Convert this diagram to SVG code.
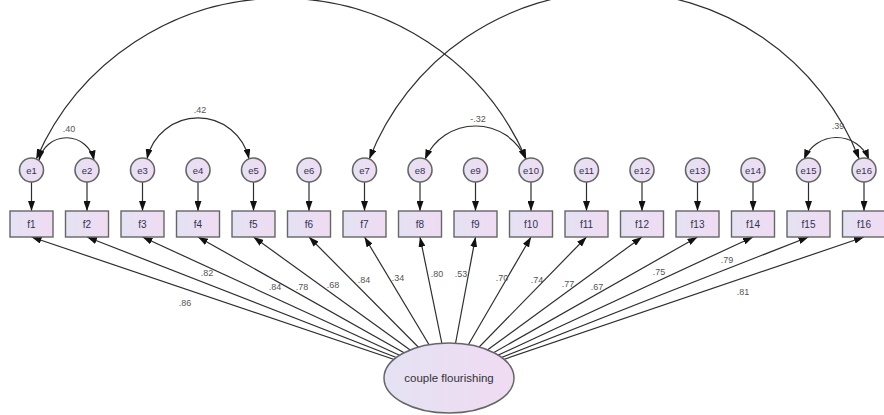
<svg xmlns="http://www.w3.org/2000/svg" width="884" height="415" viewBox="0 0 884 415">
<defs>
<linearGradient id="lav" x1="0" y1="0" x2="1" y2="0">
<stop offset="0" stop-color="#e4e2f3"/>
<stop offset="1" stop-color="#f0dbf3"/>
</linearGradient>
<marker id="ah" viewBox="0 0 10 7" refX="10" refY="3.5" markerWidth="10" markerHeight="7" markerUnits="userSpaceOnUse" orient="auto-start-reverse" preserveAspectRatio="none">
<path d="M0,0 L10,3.5 L0,7 z" fill="#111"/>
</marker>
<style>
.c{fill:none;stroke:#2e2e2e;stroke-width:1.2}
.a{marker-end:url(#ah)}
.b{marker-start:url(#ah);marker-end:url(#ah)}
.box{fill:url(#lav);stroke:#666;stroke-width:1.4}
.err{fill:url(#lav);stroke:#666;stroke-width:1.6}
.lat{fill:url(#lav);stroke:#666;stroke-width:1.5}
.t{font-family:"Liberation Sans",Arial,sans-serif;font-size:10px;fill:#33334d;text-anchor:middle}
.te{font-family:"Liberation Sans",Arial,sans-serif;font-size:9.5px;fill:#33334d;text-anchor:middle}
.tl{font-family:"Liberation Sans",Arial,sans-serif;font-size:9px;fill:#555;text-anchor:middle}
.tc{font-family:"Liberation Sans",Arial,sans-serif;font-size:11.5px;fill:#333;text-anchor:middle}
</style>
</defs>
<rect width="884" height="415" fill="#fff"/>
<g id="connectors">
<path class="c a" d="M449,378 L31.5,237"/>
<path class="c a" d="M449,378 L87,237"/>
<path class="c a" d="M449,378 L142.5,237"/>
<path class="c a" d="M449,378 L198,237"/>
<path class="c a" d="M449,378 L253.5,237"/>
<path class="c a" d="M449,378 L309,237"/>
<path class="c a" d="M449,378 L364.5,237"/>
<path class="c a" d="M449,378 L420,237"/>
<path class="c a" d="M449,378 L475.5,237"/>
<path class="c a" d="M449,378 L531,237"/>
<path class="c a" d="M449,378 L586.5,237"/>
<path class="c a" d="M449,378 L642,237"/>
<path class="c a" d="M449,378 L697.5,237"/>
<path class="c a" d="M449,378 L753,237"/>
<path class="c a" d="M449,378 L808.5,237"/>
<path class="c a" d="M449,378 L864,237"/>
<path class="c a" d="M31.5,182 L31.5,211"/>
<path class="c a" d="M87,182 L87,211"/>
<path class="c a" d="M142.5,182 L142.5,211"/>
<path class="c a" d="M198,182 L198,211"/>
<path class="c a" d="M253.5,182 L253.5,211"/>
<path class="c a" d="M309,182 L309,211"/>
<path class="c a" d="M364.5,182 L364.5,211"/>
<path class="c a" d="M420,182 L420,211"/>
<path class="c a" d="M475.5,182 L475.5,211"/>
<path class="c a" d="M531,182 L531,211"/>
<path class="c a" d="M586.5,182 L586.5,211"/>
<path class="c a" d="M642,182 L642,211"/>
<path class="c a" d="M697.5,182 L697.5,211"/>
<path class="c a" d="M753,182 L753,211"/>
<path class="c a" d="M808.5,182 L808.5,211"/>
<path class="c a" d="M864,182 L864,211"/>
<path class="c b" d="M36.3,159 A267,267 0 0 1 526.2,159"/>
<path class="c b" d="M369.3,159 A263,263 0 0 1 859.2,159"/>
<path class="c b" d="M39,160.5 A28,28 0 0 1 94,160.5"/>
<path class="c b" d="M147,159 A52.2,52.2 0 0 1 249,159"/>
<path class="c b" d="M425,159.5 A54.8,54.8 0 0 1 526,159.5"/>
<path class="c b" d="M804,159.5 A35,35 0 0 1 869,159.5"/>
</g>
<g id="labels">
<text class="tl" x="69" y="132">.40</text>
<text class="tl" x="200" y="113">.42</text>
<text class="tl" x="478" y="122">-.32</text>
<text class="tl" x="838" y="129">.39</text>
<text class="tl" x="185" y="306">.86</text>
<text class="tl" x="207" y="276">.82</text>
<text class="tl" x="275" y="290">.84</text>
<text class="tl" x="302" y="290">.78</text>
<text class="tl" x="333" y="288">.68</text>
<text class="tl" x="364" y="283">.84</text>
<text class="tl" x="398" y="281">.34</text>
<text class="tl" x="437" y="277">.80</text>
<text class="tl" x="461" y="277">.53</text>
<text class="tl" x="502" y="281">.70</text>
<text class="tl" x="537" y="283">.74</text>
<text class="tl" x="568" y="287">.77</text>
<text class="tl" x="597" y="290">.67</text>
<text class="tl" x="659" y="275">.75</text>
<text class="tl" x="727" y="263">.79</text>
<text class="tl" x="743" y="295">.81</text>
</g>
<g id="e1"><circle class="err" cx="31.5" cy="170" r="12"/><text class="te" x="31.5" y="173.5">e1</text></g>
<g id="e2"><circle class="err" cx="87" cy="170" r="12"/><text class="te" x="87" y="173.5">e2</text></g>
<g id="e3"><circle class="err" cx="142.5" cy="170" r="12"/><text class="te" x="142.5" y="173.5">e3</text></g>
<g id="e4"><circle class="err" cx="198" cy="170" r="12"/><text class="te" x="198" y="173.5">e4</text></g>
<g id="e5"><circle class="err" cx="253.5" cy="170" r="12"/><text class="te" x="253.5" y="173.5">e5</text></g>
<g id="e6"><circle class="err" cx="309" cy="170" r="12"/><text class="te" x="309" y="173.5">e6</text></g>
<g id="e7"><circle class="err" cx="364.5" cy="170" r="12"/><text class="te" x="364.5" y="173.5">e7</text></g>
<g id="e8"><circle class="err" cx="420" cy="170" r="12"/><text class="te" x="420" y="173.5">e8</text></g>
<g id="e9"><circle class="err" cx="475.5" cy="170" r="12"/><text class="te" x="475.5" y="173.5">e9</text></g>
<g id="e10"><circle class="err" cx="531" cy="170" r="12"/><text class="te" x="531" y="173.5">e10</text></g>
<g id="e11"><circle class="err" cx="586.5" cy="170" r="12"/><text class="te" x="586.5" y="173.5">e11</text></g>
<g id="e12"><circle class="err" cx="642" cy="170" r="12"/><text class="te" x="642" y="173.5">e12</text></g>
<g id="e13"><circle class="err" cx="697.5" cy="170" r="12"/><text class="te" x="697.5" y="173.5">e13</text></g>
<g id="e14"><circle class="err" cx="753" cy="170" r="12"/><text class="te" x="753" y="173.5">e14</text></g>
<g id="e15"><circle class="err" cx="808.5" cy="170" r="12"/><text class="te" x="808.5" y="173.5">e15</text></g>
<g id="e16"><circle class="err" cx="864" cy="170" r="12"/><text class="te" x="864" y="173.5">e16</text></g>
<g id="f1"><rect class="box" x="10" y="211" width="43" height="26"/><text class="t" x="31.5" y="227.5">f1</text></g>
<g id="f2"><rect class="box" x="65.5" y="211" width="43" height="26"/><text class="t" x="87" y="227.5">f2</text></g>
<g id="f3"><rect class="box" x="121" y="211" width="43" height="26"/><text class="t" x="142.5" y="227.5">f3</text></g>
<g id="f4"><rect class="box" x="176.5" y="211" width="43" height="26"/><text class="t" x="198" y="227.5">f4</text></g>
<g id="f5"><rect class="box" x="232" y="211" width="43" height="26"/><text class="t" x="253.5" y="227.5">f5</text></g>
<g id="f6"><rect class="box" x="287.5" y="211" width="43" height="26"/><text class="t" x="309" y="227.5">f6</text></g>
<g id="f7"><rect class="box" x="343" y="211" width="43" height="26"/><text class="t" x="364.5" y="227.5">f7</text></g>
<g id="f8"><rect class="box" x="398.5" y="211" width="43" height="26"/><text class="t" x="420" y="227.5">f8</text></g>
<g id="f9"><rect class="box" x="454" y="211" width="43" height="26"/><text class="t" x="475.5" y="227.5">f9</text></g>
<g id="f10"><rect class="box" x="509.5" y="211" width="43" height="26"/><text class="t" x="531" y="227.5">f10</text></g>
<g id="f11"><rect class="box" x="565" y="211" width="43" height="26"/><text class="t" x="586.5" y="227.5">f11</text></g>
<g id="f12"><rect class="box" x="620.5" y="211" width="43" height="26"/><text class="t" x="642" y="227.5">f12</text></g>
<g id="f13"><rect class="box" x="676" y="211" width="43" height="26"/><text class="t" x="697.5" y="227.5">f13</text></g>
<g id="f14"><rect class="box" x="731.5" y="211" width="43" height="26"/><text class="t" x="753" y="227.5">f14</text></g>
<g id="f15"><rect class="box" x="787" y="211" width="43" height="26"/><text class="t" x="808.5" y="227.5">f15</text></g>
<g id="f16"><rect class="box" x="842.5" y="211" width="43" height="26"/><text class="t" x="864" y="227.5">f16</text></g>
<g id="couple_flourishing"><ellipse class="lat" cx="449" cy="378" rx="65" ry="35"/><text class="tc" x="449" y="382">couple flourishing</text></g>
</svg>
